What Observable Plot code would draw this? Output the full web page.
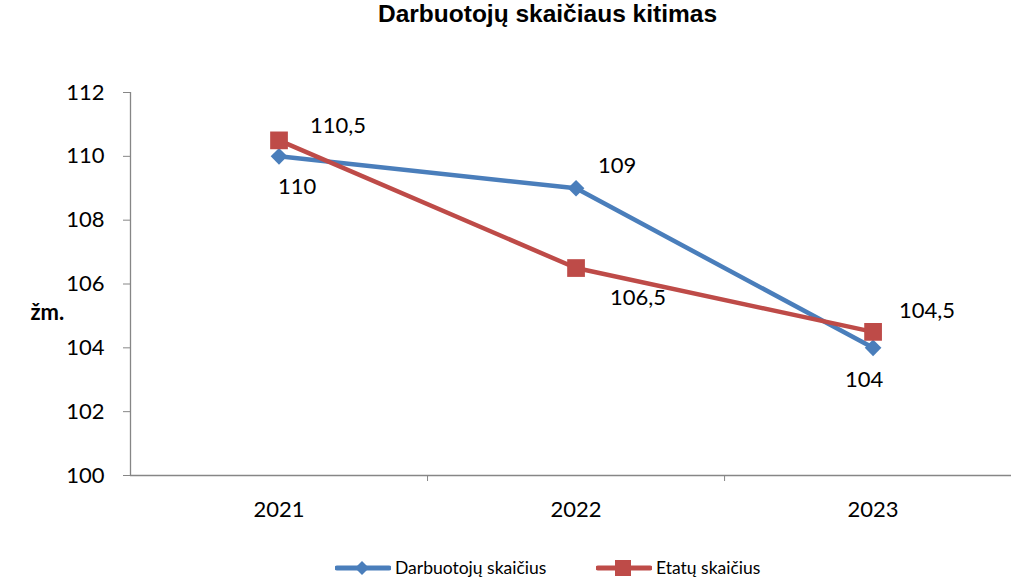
<!DOCTYPE html>
<html>
<head>
<meta charset="utf-8">
<script src="https://cdn.jsdelivr.net/npm/d3@7"></script>
<script src="https://cdn.jsdelivr.net/npm/@observablehq/plot@0.6"></script>
<style>
  body { margin: 0; background: #fff; width: 1011px; height: 580px; overflow: hidden; }
  #title { height: 50px; line-height: 52px; text-align: center; padding-left: 84px;
    font: bold 24.5px "Liberation Sans", Arial, sans-serif; color: #000; }
  #chart svg { display: block; }
  #legend { position: absolute; top: 557px; left: 0; width: 1011px; height: 22px;
    font: 17.5px/22px Lato, sans-serif; color: #000; }
  .item { position: absolute; top: 0; display: flex; align-items: center; height: 22px; }
  .item svg { margin-right: 4px; }
</style>
</head>
<body>
<div id="title">Darbuotojų skaičiaus kitimas</div>
<div id="chart"></div>
<div id="legend"></div>
<script>
// ---- data ----
const years = [2021, 2022, 2023];
const darbuotojai = [110, 109, 104];
const etatai = [110.5, 106.5, 104.5];
const seriesNames = ["Darbuotojų skaičius", "Etatų skaičius"];
const yTicks = [100, 102, 104, 106, 108, 110, 112];

// ---- style ----
const colors = ["#4A7EBB", "#BE4B48"];
const labelOffsets = [
  [[18, 31], [41, -22], [-9, 32]],   // Darbuotojų
  [[59, -14], [62, 30], [54, -21]]   // Etatų
];

const fmt = d => String(d).replace(".", ",");
const allSeries = [darbuotojai, etatai];
const rows = [];
allSeries.forEach((vals, si) => vals.forEach((v, i) =>
  rows.push({year: years[i], value: v, series: seriesNames[si], si, i})));

const labelMarks = rows.map(r => Plot.text([r], {
  x: "year", y: "value", text: d => fmt(d.value),
  dx: labelOffsets[r.si][r.i][0], dy: labelOffsets[r.si][r.i][1],
  fontSize: 22, fill: "#000"
}));

const chart = Plot.plot({
  width: 1011,
  height: 490,
  marginLeft: 130,
  marginRight: 0,
  marginTop: 42,
  marginBottom: 65,
  style: {fontFamily: "Lato, sans-serif", fontSize: "22px", color: "#000", background: "#fff"},
  x: {domain: [2020.5, 2023.466]},
  y: {domain: [100, 112]},
  marks: [
    Plot.ruleY([100], {stroke: "#868686", strokeWidth: 1.3}),
    Plot.ruleX([2020.5], {y1: 100, y2: 112, stroke: "#868686", strokeWidth: 1.3}),
    Plot.axisY({ticks: yTicks, tickSize: 7, tickPadding: 19, stroke: "#868686",
      label: null, fontSize: 22, fill: "#000"}),
    Plot.axisX({ticks: [2021.5, 2022.5], tickSize: 6, tickFormat: () => "",
      stroke: "#868686", label: null}),
    Plot.axisX({ticks: years, tickSize: 0, tickPadding: 26, tickFormat: d => String(d),
      label: null, fontSize: 22, fill: "#000"}),
    Plot.text(["žm."], {frameAnchor: "left", dx: -100, dy: 29, fontWeight: "bold",
      fontSize: 22, fontFamily: "Lato, sans-serif", fill: "#000"}),
    Plot.line(rows.filter(r => r.si === 0), {x: "year", y: "value", stroke: colors[0], strokeWidth: 4.5}),
    Plot.line(rows.filter(r => r.si === 1), {x: "year", y: "value", stroke: colors[1], strokeWidth: 4.5}),
    Plot.dot(rows.filter(r => r.si === 0), {x: "year", y: "value", symbol: "diamond2", r: 7.5, fill: colors[0], stroke: "none"}),
    Plot.dot(rows.filter(r => r.si === 1), {x: "year", y: "value", symbol: "square", r: 10, fill: colors[1], stroke: "none"}),
    ...labelMarks
  ]
});
document.getElementById("chart").append(chart);

// legend
const legend = document.getElementById("legend");
const legendX = [335, 596];
seriesNames.forEach((name, si) => {
  const item = document.createElement("div");
  item.className = "item";
  item.style.left = legendX[si] + "px";
  const marker = si === 0
    ? `<path d="M27,4 L34,11 L27,18 L20,11 Z" fill="${colors[0]}"/>`
    : `<rect x="19" y="3" width="16" height="16" fill="${colors[1]}"/>`;
  item.innerHTML = `<svg width="56" height="22"><line x1="2" y1="11" x2="54" y2="11" stroke="${colors[si]}" stroke-width="5" stroke-linecap="round"/>${marker}</svg><span>${name}</span>`;
  legend.append(item);
});
</script>
</body>
</html>
